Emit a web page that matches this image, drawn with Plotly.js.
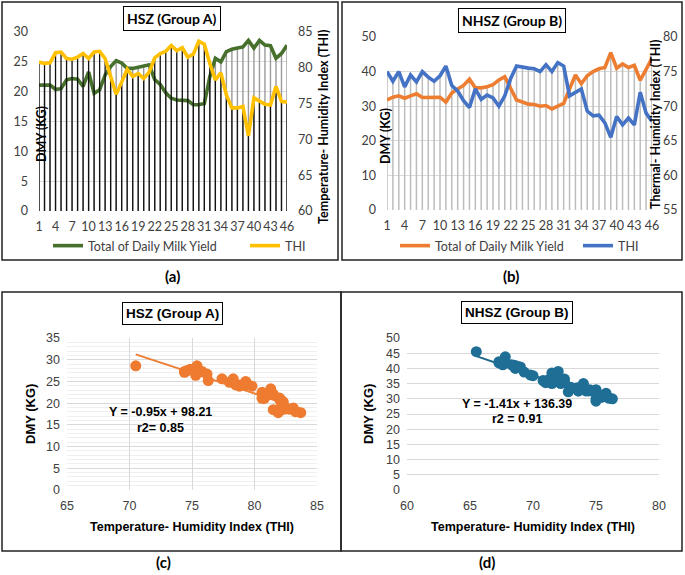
<!DOCTYPE html>
<html><head><meta charset="utf-8">
<script src="https://cdn.plot.ly/plotly-3.0.1.min.js"></script>
<style>html,body{margin:0;padding:0;background:#fff}#chart{width:685px;height:575px}</style>
</head><body><div id="chart"></div>
<script>
// ---------- DATA ----------
const days = [1,2,3,4,5,6,7,8,9,10,11,12,13,14,15,16,17,18,19,20,21,22,23,24,25,26,27,28,29,30,31,32,33,34,35,36,37,38,39,40,41,42,43,44,45,46];
const dayTicks = [1,4,7,10,13,16,19,22,25,28,31,34,37,40,43,46];

// Group A (HSZ)
const dmyA = [21.1,21.1,21.1,20.4,20.5,22.0,22.2,22.1,20.9,23.3,19.7,20.3,22.8,24.2,25.2,24.8,23.9,23.9,24.1,24.2,24.5,22.0,21.2,19.8,18.9,18.6,18.6,18.5,17.8,17.8,18.0,22.5,25.6,25.0,26.7,27.1,27.3,27.5,28.6,27.3,28.6,27.8,27.7,25.6,26.4,27.8];
const thiA = [80.8,80.6,80.7,82.1,82.2,81.3,81.2,81.5,82.0,81.3,82.2,82.3,81.3,78.8,76.3,78.0,79.8,78.8,79.2,78.5,79.4,81.4,82.0,82.3,83.1,82.4,82.8,81.5,81.9,83.7,83.3,80.6,78.3,79.3,76.2,74.4,74.4,74.6,70.5,75.8,75.4,74.9,74.8,77.4,75.3,75.2];

// Group B (NHSZ)
const dmyB = [31.8,32.6,33.0,32.3,33.0,33.6,32.5,32.6,32.6,32.6,31.2,33.8,35.0,36.0,37.8,35.3,35.3,35.6,36.2,37.6,38.5,35.0,31.8,31.2,30.6,30.5,30.0,30.2,29.2,30.0,30.8,35.0,39.0,36.5,38.8,40.0,40.8,41.2,45.5,41.0,42.2,41.2,41.8,37.5,40.5,43.8];
const thiB = [75.0,73.6,75.0,72.8,74.5,73.5,75.0,74.2,73.6,74.4,75.8,73.0,72.2,70.8,69.8,72.5,71.0,71.6,71.2,70.0,71.5,74.0,75.8,75.6,75.5,75.4,75.0,76.0,75.0,76.3,75.8,71.5,72.0,72.5,69.3,68.6,68.7,67.6,65.5,68.5,67.3,68.3,67.3,72.0,69.0,67.8];

// Regression coefficients (as printed)
const fitA = {slope:-0.95, intercept:98.21, r2:0.85};
const fitB = {slope:-1.41, intercept:136.39, r2:0.91};

// ---------- HELPERS ----------
const W = 685, H = 575;
const px = v => v / W, py = v => 1 - v / H;
function drops(xs, base, tops){
  const x=[], y=[];
  xs.forEach((d,i)=>{ x.push(d,d,null); y.push(base,tops[i],null); });
  return {x,y};
}
function rescale(v, from, to){ return to[0] + (v-from[0])*(to[1]-to[0])/(from[1]-from[0]); }
const rA1=[0,30], rA2=[60,85], rB1=[0,50], rB2=[55,80];

const CAL = 'Lato, Carlito, "Open Sans", sans-serif';
const NAR = '"Liberation Sans Narrow", "Arial Narrow", "Liberation Sans", Arial, sans-serif';
const tickC = '#404040';

const dropDmyA = drops(days, 0, dmyA);
const dropThiA = drops(days, rA2[0], thiA);
const topB = dmyB.map((v,i)=>Math.max(v, rescale(thiB[i], rB2, rB1)));
const dropB = drops(days, 0, topB);

const minA = Math.min(...thiA), maxA = Math.max(...thiA);
const minB = Math.min(...thiB), maxB = Math.max(...thiB);

const traces = [
  // Panel (a)
  {x:dropDmyA.x, y:dropDmyA.y, xaxis:'x', yaxis:'y', mode:'lines', line:{color:'#9A9A9A', width:1.4}, showlegend:false, hoverinfo:'skip'},
  {x:days, y:dmyA, xaxis:'x', yaxis:'y', mode:'lines', name:'Total of Daily Milk Yield', line:{color:'#46702C', width:3.6}, legend:'legend'},
  {x:dropThiA.x, y:dropThiA.y, xaxis:'x', yaxis:'y2', mode:'lines', line:{color:'#111111', width:1.3}, showlegend:false, hoverinfo:'skip'},
  {x:days, y:thiA, xaxis:'x', yaxis:'y2', mode:'lines', name:'THI', line:{color:'#FFC000', width:3.6}, legend:'legend2'},
  // Panel (b)
  {x:dropB.x, y:dropB.y, xaxis:'x2', yaxis:'y3', mode:'lines', line:{color:'#BDBDBD', width:1.5}, showlegend:false, hoverinfo:'skip'},
  {x:days, y:dmyB, xaxis:'x2', yaxis:'y3', mode:'lines', name:'Total of Daily Milk Yield', line:{color:'#ED7D31', width:3.6}, legend:'legend3'},
  {x:days, y:thiB, xaxis:'x2', yaxis:'y4', mode:'lines', name:'THI', line:{color:'#4472C4', width:3.6}, legend:'legend4'},
  // Panel (c)
  {x:[minA,maxA], y:[fitA.slope*minA+fitA.intercept, fitA.slope*maxA+fitA.intercept], xaxis:'x3', yaxis:'y5', mode:'lines', line:{color:'#ED7D31', width:2}, showlegend:false},
  {x:thiA, y:dmyA, xaxis:'x3', yaxis:'y5', mode:'markers', marker:{color:'#EE7B30', size:11, line:{width:0}}, showlegend:false},
  // Panel (d)
  {x:[minB,maxB], y:[fitB.slope*minB+fitB.intercept, fitB.slope*maxB+fitB.intercept], xaxis:'x4', yaxis:'y6', mode:'lines', line:{color:'#1E6688', width:2}, showlegend:false},
  {x:thiB, y:dmyB, xaxis:'x4', yaxis:'y6', mode:'markers', marker:{color:'#1F6E95', size:11, line:{width:0}}, showlegend:false}
];

const tfC = {family:CAL, size:12.5, color:tickC};
const tfN = {family:NAR, size:12.5, color:tickC};
const legFont = {family:CAL, size:12.5, color:tickC};
function leg(x){ return {x:px(x), y:py(246), xanchor:'left', yanchor:'middle', orientation:'h', font:legFont, bgcolor:'rgba(0,0,0,0)', itemwidth:30}; }

function ann(text, x, y, font, extra){
  return Object.assign({text:text, xref:'paper', yref:'paper', x:px(x), y:py(y), xanchor:'center', yanchor:'middle', showarrow:false, font:font}, extra||{});
}
const fC = s => ({family:CAL, size:s, color:'#000'});
const fN = s => ({family:NAR, size:s, color:'#000'});
const boxed = {bordercolor:'#000', borderwidth:1, borderpad:3, bgcolor:'#fff'};
const vert = {textangle:-90};

const layout = {
  width:W, height:H, margin:{l:0,r:0,t:0,b:0}, paper_bgcolor:'#fff', plot_bgcolor:'rgba(0,0,0,0)',
  hovermode:false,
  legend: leg(48), legend2: leg(245), legend3: leg(395), legend4: leg(578),
  xaxis:{domain:[px(39),px(287)], range:[1,46], anchor:'y', tickvals:dayTicks, showgrid:false, zeroline:false, showline:false, ticks:'', tickfont:tfC, ticklabelstandoff:6},
  yaxis:{domain:[py(211),py(32)], range:rA1, dtick:5, anchor:'x', gridcolor:'#D9D9D9', zeroline:false, showline:false, ticks:'', tickfont:tfC, ticklabelstandoff:10},
  yaxis2:{overlaying:'y', side:'right', anchor:'x', range:rA2, dtick:5, showgrid:false, zeroline:false, showline:false, ticks:'', tickfont:tfC, ticklabelstandoff:10},
  xaxis2:{domain:[px(387),px(652)], range:[1,46], anchor:'y3', tickvals:dayTicks, showgrid:false, zeroline:false, showline:false, ticks:'', tickfont:tfC, ticklabelstandoff:6},
  yaxis3:{domain:[py(210),py(37)], range:rB1, dtick:10, anchor:'x2', gridcolor:'#D9D9D9', zeroline:false, showline:false, ticks:'', tickfont:tfC, ticklabelstandoff:10},
  yaxis4:{overlaying:'y3', side:'right', anchor:'x2', range:rB2, dtick:5, showgrid:false, zeroline:false, showline:false, ticks:'', tickfont:tfC, ticklabelstandoff:10},
  xaxis3:{domain:[px(67),px(317)], range:[65,85], dtick:5, anchor:'y5', showgrid:true, gridcolor:'#D9D9D9', zeroline:false, showline:false, ticks:'', tickfont:tfN, ticklabelstandoff:6},
  yaxis5:{domain:[py(490),py(338)], range:[0,35], dtick:5, anchor:'x3', gridcolor:'#D9D9D9', minor:{dtick:1, showgrid:true, gridcolor:'#EFEFEF'}, zeroline:false, showline:false, ticks:'', tickfont:tfN, ticklabelstandoff:6},
  xaxis4:{domain:[px(407),px(659)], range:[60,80], dtick:5, anchor:'y6', showgrid:false, zeroline:false, showline:false, ticks:'', tickfont:tfN, ticklabelstandoff:6},
  yaxis6:{domain:[py(490),py(338)], range:[0,50], dtick:5, anchor:'x4', gridcolor:'#D9D9D9', zeroline:false, showline:false, ticks:'', tickfont:tfN, ticklabelstandoff:6},
  shapes:[
    {type:'rect', xref:'paper', yref:'paper', x0:px(2), x1:px(338), y0:py(260), y1:py(2), line:{color:'#222', width:1.5}},
    {type:'rect', xref:'paper', yref:'paper', x0:px(342), x1:px(682), y0:py(260), y1:py(2), line:{color:'#222', width:1.5}},
    {type:'rect', xref:'paper', yref:'paper', x0:px(2), x1:px(341), y0:py(551), y1:py(292), line:{color:'#222', width:1.5}},
    {type:'rect', xref:'paper', yref:'paper', x0:px(341), x1:px(682), y0:py(551), y1:py(292), line:{color:'#222', width:1.5}}
  ],
  annotations:[
    // panel (a)
    ann('<b>HSZ (Group A)</b>', 172, 19, fC(14), boxed),
    ann('<b>DMY (KG)</b>', 41, 134, fC(12.5), vert),
    ann('<b>Temperature- Humidity Index (THI)</b>', 323, 127, fC(12.5), vert),
    ann('<b>(a)</b>', 172, 276, fC(15)),
    // panel (b)
    ann('<b>NHSZ (Group B)</b>', 512, 21, fC(14), boxed),
    ann('<b>DMY (KG)</b>', 385, 136, fC(12.5), vert),
    ann('<b>Thermal- Humidity Index (THI)</b>', 656, 125, fC(12.5), vert),
    ann('<b>(b)</b>', 511, 276, fC(15)),
    // panel (c)
    ann('<b>HSZ (Group A)</b>', 172, 313, fN(13.5), boxed),
    ann('<b>DMY (KG)</b>', 30, 414, fN(13), vert),
    ann('<b>Temperature- Humidity Index (THI)</b>', 192, 527, fN(12.5)),
    ann('<b>Y = '+fitA.slope.toFixed(2)+'x + '+fitA.intercept.toFixed(2)+'</b>', 160, 412, fN(12.5)),
    ann('<b>r2= '+fitA.r2.toFixed(2)+'</b>', 160, 428, fN(12.5)),
    ann('<b>(c)</b>', 163, 562, fC(15)),
    // panel (d)
    ann('<b>NHSZ (Group B)</b>', 517, 312, fN(13.5), boxed),
    ann('<b>DMY (KG)</b>', 368, 414, fN(13), vert),
    ann('<b>Temperature- Humidity Index (THI)</b>', 533, 527, fN(12.5)),
    ann('<b>Y = '+fitB.slope.toFixed(2)+'x + '+fitB.intercept.toFixed(2)+'</b>', 517, 404, fN(12.5)),
    ann('<b>r2 = '+fitB.r2.toFixed(2)+'</b>', 517, 419, fN(12.5)),
    ann('<b>(d)</b>', 487, 562, fC(15))
  ]
};

Plotly.newPlot('chart', traces, layout, {displayModeBar:false, staticPlot:true});
</script>
</body></html>
